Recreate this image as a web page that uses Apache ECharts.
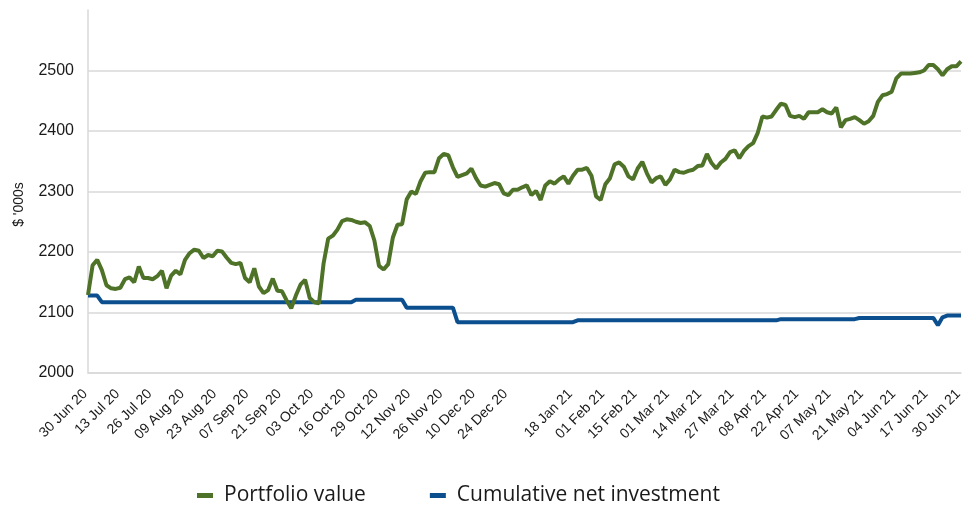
<!DOCTYPE html>
<html>
<head>
<meta charset="utf-8">
<script src="https://cdn.jsdelivr.net/npm/echarts@6/dist/echarts.min.js"></script>
<style>
  html, body { margin: 0; padding: 0; background: #fff; }
  #chart { width: 976px; height: 507px; }
</style>
</head>
<body>
<div id="chart"></div>
<script>
// tick labels, one every 7 points ('' = no label at that slot)
const tickLabels = ['30 Jun 20', '13 Jul 20', '26 Jul 20', '09 Aug 20', '23 Aug 20', '07 Sep 20', '21 Sep 20',
  '03 Oct 20', '16 Oct 20', '29 Oct 20', '12 Nov 20', '26 Nov 20', '10 Dec 20', '24 Dec 20', '',
  '18 Jan 21', '01 Feb 21', '15 Feb 21', '01 Mar 21', '14 Mar 21', '27 Mar 21', '08 Apr 21',
  '22 Apr 21', '07 May 21', '21 May 21', '04 Jun 21', '17 Jun 21', '30 Jun 21']
const pointsPerTick = 7

// $ '000s
const portfolioValue = [
  2129, 2178, 2187, 2170, 2145, 2140, 2139, 2141, 2155, 2158,
  2150, 2176, 2157, 2157, 2155, 2160, 2169, 2140, 2161, 2169,
  2163, 2187, 2198, 2204, 2202, 2190, 2195, 2193, 2202, 2201,
  2191, 2182, 2180, 2182, 2157, 2150, 2173, 2143, 2132, 2137,
  2156, 2136, 2135, 2120, 2107, 2128, 2146, 2154, 2124, 2117,
  2115, 2181, 2222, 2227, 2237, 2251, 2254, 2253, 2250, 2248,
  2249, 2243, 2219, 2177, 2171, 2180, 2224, 2245, 2246, 2287,
  2300, 2296, 2317, 2331, 2332, 2332, 2355, 2362, 2360, 2340,
  2324, 2327, 2330, 2338, 2322, 2310, 2308, 2311, 2314, 2312,
  2297, 2294, 2303, 2303, 2307, 2310, 2294, 2301, 2286, 2310,
  2317, 2313, 2320, 2325, 2313, 2326, 2336, 2336, 2339, 2326,
  2292, 2286, 2312, 2322, 2345, 2348, 2341, 2325, 2320, 2338,
  2349, 2330, 2315, 2322, 2325, 2311, 2320, 2336, 2332, 2331,
  2334, 2336, 2342, 2343, 2362, 2347, 2338, 2348, 2354, 2365,
  2368, 2355, 2367, 2375, 2380, 2397, 2424, 2422, 2424, 2435,
  2445, 2443, 2425, 2423, 2425, 2420, 2431, 2431, 2431, 2436,
  2431, 2429, 2439, 2406, 2418, 2420, 2423, 2418, 2412, 2416,
  2425, 2448, 2459, 2461, 2465, 2487, 2495, 2495, 2495, 2496,
  2497, 2500, 2509, 2509, 2502, 2492, 2502, 2507, 2507, 2515
]

const netInvestment = [
  2128, 2128, 2128, 2117, 2117, 2117, 2117, 2117, 2117, 2117,
  2117, 2117, 2117, 2117, 2117, 2117, 2117, 2117, 2117, 2117,
  2117, 2117, 2117, 2117, 2117, 2117, 2117, 2117, 2117, 2117,
  2117, 2117, 2117, 2117, 2117, 2117, 2117, 2117, 2117, 2117,
  2117, 2117, 2117, 2117, 2117, 2117, 2117, 2117, 2117, 2117,
  2117, 2117, 2117, 2117, 2117, 2117, 2117, 2117, 2121, 2121,
  2121, 2121, 2121, 2121, 2121, 2121, 2121, 2121, 2121, 2108,
  2108, 2108, 2108, 2108, 2108, 2108, 2108, 2108, 2108, 2108,
  2084, 2084, 2084, 2084, 2084, 2084, 2084, 2084, 2084, 2084,
  2084, 2084, 2084, 2084, 2084, 2084, 2084, 2084, 2084, 2084,
  2084, 2084, 2084, 2084, 2084, 2084, 2087, 2087, 2087, 2087,
  2087, 2087, 2087, 2087, 2087, 2087, 2087, 2087, 2087, 2087,
  2087, 2087, 2087, 2087, 2087, 2087, 2087, 2087, 2087, 2087,
  2087, 2087, 2087, 2087, 2087, 2087, 2087, 2087, 2087, 2087,
  2087, 2087, 2087, 2087, 2087, 2087, 2087, 2087, 2087, 2087,
  2089, 2089, 2089, 2089, 2089, 2089, 2089, 2089, 2089, 2089,
  2089, 2089, 2089, 2089, 2089, 2089, 2089, 2091, 2091, 2091,
  2091, 2091, 2091, 2091, 2091, 2091, 2091, 2091, 2091, 2091,
  2091, 2091, 2091, 2091, 2079, 2092, 2095, 2095, 2095, 2095
]

const categories = portfolioValue.map((v, i) => i)

const AXIS_FONT = "'Liberation Sans', Arial, sans-serif"
const LEGEND_FONT = "'Open Sans', 'Liberation Sans', sans-serif"

const chart = echarts.init(document.getElementById('chart'))

const option = {
  animation: false,
  grid: { left: 88, right: 15, top: 10, bottom: 134 },
  legend: {
    top: 480,
    left: 192,
    itemGap: 64,
    itemWidth: 16,
    itemHeight: 5,
    icon: 'rect',
    textStyle: { fontFamily: LEGEND_FONT, fontSize: 21, color: '#1a1a1a', padding: [0, 0, 0, 6] },
    data: ['Portfolio value', 'Cumulative net investment']
  },
  xAxis: {
    type: 'category',
    data: categories,
    boundaryGap: false,
    axisLine: { lineStyle: { color: '#d9d9d9', width: 1.5 } },
    axisTick: { show: false },
    axisLabel: {
      interval: pointsPerTick - 1,
      rotate: 45,
      fontFamily: AXIS_FONT,
      fontSize: 14,
      color: '#1a1a1a',
      margin: 16,
      padding: [0, 4, 0, 0],
      formatter: (v) => tickLabels[Math.round(v / pointsPerTick)] || ''
    },
    splitLine: { show: false }
  },
  yAxis: {
    type: 'value',
    min: 2000,
    max: 2600,
    interval: 100,
    name: "$ '000s",
    nameLocation: 'middle',
    nameGap: 62,
    nameTextStyle: { fontFamily: AXIS_FONT, fontSize: 14, color: '#1a1a1a', padding: [0, 0, 0, -26] },
    axisLine: { show: true, lineStyle: { color: '#d9d9d9', width: 1.5 } },
    axisTick: { show: false },
    axisLabel: {
      fontFamily: AXIS_FONT,
      fontSize: 16,
      color: '#1a1a1a',
      margin: 14,
      showMaxLabel: false,
      formatter: (v) => String(v)
    },
    splitLine: { showMaxLine: false, lineStyle: { color: '#d9d9d9', width: 1.5 } }
  },
  series: [
    {
      name: 'Cumulative net investment',
      type: 'line',
      data: netInvestment,
      showSymbol: false,
      color: '#0b4f8f',
      lineStyle: { width: 4, color: '#0b4f8f' },
      z: 2
    },
    {
      name: 'Portfolio value',
      type: 'line',
      data: portfolioValue,
      showSymbol: false,
      color: '#4e7227',
      lineStyle: { width: 4, color: '#4e7227' },
      z: 3
    }
  ]
}

chart.setOption(option)
</script>
</body>
</html>
